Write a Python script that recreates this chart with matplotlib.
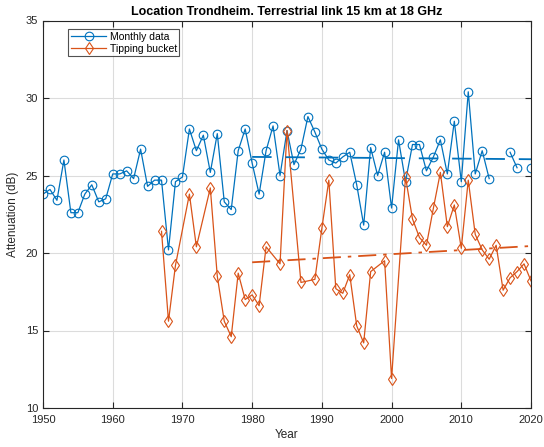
import numpy as np
import matplotlib
matplotlib.use("Agg")
import matplotlib.pyplot as plt

plt.rcParams['font.family'] = ['Liberation Sans', 'DejaVu Sans']
plt.rcParams['lines.scale_dashes'] = False

# Monthly-data attenuation per year (NaN where no value)
monthly_years = list(range(1950, 2021))
monthly_values = [
    23.8, 24.1, 23.4, 26.0, 22.6, 22.6, 23.8, 24.4, 23.3, 23.5,   # 1950-1959
    25.1, 25.1, 25.3, 24.8, 26.7, 24.3, 24.7, 24.7, 20.2, 24.6,   # 1960-1969
    24.9, 28.0, 26.6, 27.6, 25.2, 27.7, 23.3, 22.8, 26.6, 28.0,   # 1970-1979
    25.8, 23.8, 26.6, 28.2, 25.0, 27.9, 25.7, 26.7, 28.8, 27.8,   # 1980-1989
    26.7, 26.0, 25.8, 26.2, 26.5, 24.4, 21.8, 26.8, 25.0, 26.5,   # 1990-1999
    22.9, 27.3, 24.6, 27.0, 27.0, 25.3, 26.2, 27.3, 25.1, 28.5,   # 2000-2009
    24.6, 30.4, 25.1, 26.6, 24.8, np.nan, np.nan, 26.5, 25.5, np.nan,  # 2010-2019
    25.5,                                                          # 2020
]

# Tipping-bucket attenuation, only years with data
bucket_years = [
    1967, 1968, 1969, 1971, 1972, 1974, 1975, 1976, 1977, 1978, 1979,
    1980, 1981, 1982, 1984, 1985, 1987, 1989, 1990, 1991, 1992, 1993,
    1994, 1995, 1996, 1997, 1999, 2000, 2002, 2003, 2004, 2005, 2006,
    2007, 2008, 2009, 2010, 2011, 2012, 2013, 2014, 2015, 2016, 2017,
    2018, 2019, 2020,
]
bucket_values = [
    21.4, 15.6, 19.2, 23.8, 20.4, 24.2, 18.5, 15.6, 14.6, 18.7, 17.0,
    17.3, 16.6, 20.4, 19.3, 27.9, 18.1, 18.3, 21.6, 24.7, 17.7, 17.4,
    18.6, 15.3, 14.2, 18.8, 19.5, 11.9, 24.9, 22.2, 21.0, 20.5, 22.9,
    25.2, 21.7, 23.1, 20.3, 24.7, 21.2, 20.2, 19.6, 20.5, 17.6, 18.4,
    18.8, 19.3, 18.2,
]

# Linear trends over 1980-2020
trend_years = [1980, 2020]
monthly_trend = [26.2, 26.05]
bucket_trend = [19.4, 20.45]

blue = '#0072BD'
orange = '#D95319'
axis_col = '#262626'

fig = plt.figure(figsize=(5.44, 4.47), dpi=100)
ax = fig.add_axes([43 / 544, 39 / 447, 488 / 544, 387.5 / 447])

ax.plot(monthly_years, monthly_values, '-o', color=blue, lw=0.9,
        ms=6.2, mfc='none', mew=0.8, label='Monthly data')
ax.plot(bucket_years, bucket_values, '-d', color=orange, lw=0.9,
        ms=6.5, mfc='none', mew=0.8, label='Tipping bucket')
ax.plot(trend_years, monthly_trend, color=blue, lw=1.3,
        dashes=(14, 10))
ax.plot(trend_years, bucket_trend, color=orange, lw=1.3,
        dashes=(13, 5, 2.5, 5))

ax.set_xlim(1950, 2020)
ax.set_ylim(10, 35)
ax.set_xticks(range(1950, 2021, 10))
ax.set_yticks(range(10, 36, 5))
ax.grid(True, color='#dcdcdc', lw=0.8)
ax.set_axisbelow(True)
ax.tick_params(direction='in', top=True, right=True, length=4,
               labelsize=8, colors=axis_col, width=0.8)
ax.tick_params(axis='x', pad=5)
for s in ax.spines.values():
    s.set_color(axis_col)
    s.set_linewidth(0.8)

ax.set_title('Location Trondheim. Terrestrial link 15 km at 18 GHz',
             fontsize=9, fontweight='bold', pad=4)
ax.set_xlabel('Year', fontsize=8.5, color=axis_col, labelpad=3)
ax.set_ylabel('Attenuation (dB)', fontsize=8.5, color=axis_col, labelpad=5)

leg = ax.legend(loc='upper left', bbox_to_anchor=(0.052, 0.977),
                fontsize=7.5, frameon=True, fancybox=False,
                edgecolor=axis_col, handlelength=3.4, handletextpad=0.3,
                borderpad=0.25, labelspacing=0.15, borderaxespad=0)
leg.get_frame().set_linewidth(0.8)

fig.savefig('out.png', dpi=100)
